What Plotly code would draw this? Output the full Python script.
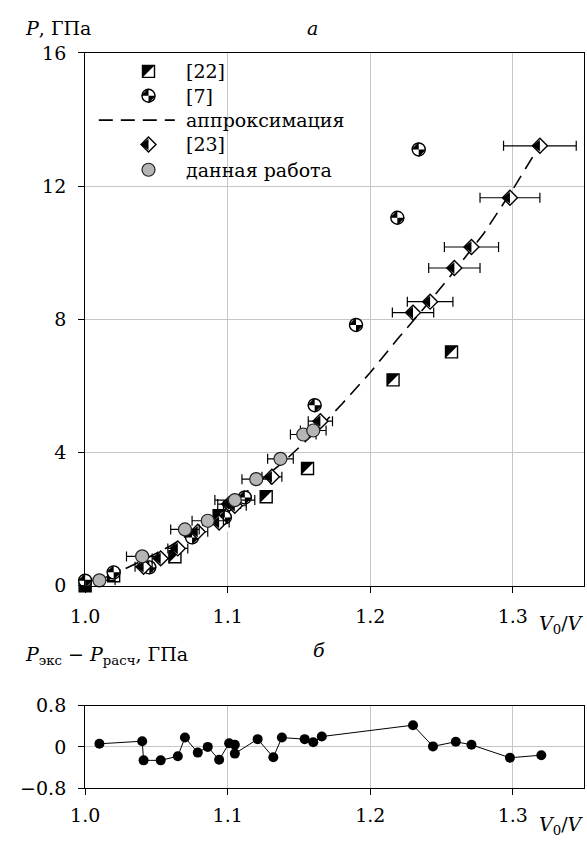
import math
import plotly.graph_objects as go

# ---------------- data ----------------
approx_x = [1.00, 1.02, 1.04, 1.06, 1.08, 1.10, 1.12, 1.14, 1.16, 1.18, 1.20,
            1.22, 1.24, 1.26, 1.28, 1.30, 1.32]
approx_p = [0.0, 0.35, 0.75, 1.2, 1.75, 2.35, 3.05, 3.75, 4.55, 5.45, 6.4,
            7.45, 8.45, 9.5, 10.6, 11.9, 13.3]

ref22_x = [1.000, 1.020, 1.063, 1.094, 1.127, 1.156, 1.216, 1.257]
ref22_p = [0.00, 0.30, 0.87, 2.10, 2.67, 3.52, 6.18, 7.02]

ref7_x = [1.000, 1.020, 1.045, 1.075, 1.098, 1.112, 1.161, 1.190, 1.219, 1.234]
ref7_p = [0.15, 0.40, 0.55, 1.45, 2.05, 2.65, 5.42, 7.83, 11.05, 13.10]

ref23_x = [1.041, 1.053, 1.065, 1.079, 1.094, 1.101, 1.105, 1.131, 1.165,
           1.230, 1.242, 1.259, 1.271, 1.298, 1.319]
ref23_p = [0.57, 0.82, 1.12, 1.62, 1.90, 2.45, 2.40, 3.27, 4.94,
           8.20, 8.53, 9.54, 10.17, 11.65, 13.21]
ref23_err = [0.006, 0.006, 0.007, 0.007, 0.007, 0.008, 0.008, 0.007, 0.0085,
             0.0145, 0.016, 0.018, 0.019, 0.021, 0.0255]

this_x = [1.010, 1.040, 1.070, 1.086, 1.105, 1.120, 1.137, 1.153, 1.160]
this_p = [0.16, 0.88, 1.69, 1.95, 2.57, 3.20, 3.81, 4.54, 4.66]
this_err = [0.011, 0.011, 0.010, 0.011, 0.014, 0.010, 0.009, 0.009, 0.009]

res_x = [1.010, 1.040, 1.041, 1.053, 1.065, 1.070, 1.079, 1.086, 1.094, 1.101,
         1.105, 1.105, 1.121, 1.132, 1.138, 1.154, 1.160, 1.166, 1.230, 1.244,
         1.260, 1.271, 1.298, 1.320]
res_y = [0.06, 0.11, -0.26, -0.26, -0.18, 0.18, -0.11, 0.0, -0.25, 0.07,
         0.04, -0.13, 0.15, -0.20, 0.18, 0.15, 0.09, 0.20, 0.42, 0.01,
         0.10, 0.04, -0.21, -0.16]

x_ticks = [1.0, 1.1, 1.2, 1.3]
p_ticks = [0, 4, 8, 12, 16]
r_ticks = [-0.8, 0, 0.8]
r_ticktext = ["\u22120.8", "0", "0.8"]

legend_labels = ["[22]", "[7]", "аппроксимация", "[23]", "данная работа"]

# ---------------- layout helpers ----------------
W, H = 587, 848
FONT = "DejaVu Serif"


def fx(p):
    return p / W


def fy(p):
    return 1 - p / H


fig = go.Figure()


def sc(**kw):
    kw.setdefault("hoverinfo", "skip")
    kw.setdefault("showlegend", False)
    kw.setdefault("cliponaxis", False)
    fig.add_trace(go.Scatter(**kw))


SQ = 12  # square marker side


def add_square(xs, ys, xa, ya):
    # black square, white diamond whitening the lower-right half, outline on top
    a = SQ / 2
    sc(x=xs, y=ys, mode="markers", xaxis=xa, yaxis=ya,
       marker=dict(symbol="square", size=SQ, color="black",
                   line=dict(width=0)))
    sc(x=xs, y=ys, mode="markers", xaxis=xa, yaxis=ya, cliponaxis=True,
       marker=dict(symbol="square", size=math.sqrt(2) * SQ, color="white",
                   angle=-45, standoff=math.sqrt(2) * a,
                   line=dict(width=0)))
    sc(x=xs, y=ys, mode="markers", xaxis=xa, yaxis=ya,
       marker=dict(symbol="square-open", size=SQ, color="black",
                   line=dict(color="black", width=1.4)))


def add_pie(xs, ys, xa, ya):
    sc(x=xs, y=ys, mode="markers", xaxis=xa, yaxis=ya,
       marker=dict(symbol="circle", size=13, color="white",
                   line=dict(color="black", width=1.4)))
    sc(x=xs, y=ys, mode="markers", xaxis=xa, yaxis=ya,
       marker=dict(symbol="hourglass", size=10.5, color="black", angle=-45,
                   line=dict(width=0)))


def add_diamond(xs, ys, xa, ya, err=None):
    ex = None
    if err is not None:
        ex = dict(type="data", array=err, symmetric=True, color="black",
                  thickness=1.2, width=5)
    sc(x=xs, y=ys, mode="markers", xaxis=xa, yaxis=ya, error_x=ex,
       marker=dict(symbol="diamond", size=11.5, color="white",
                   line=dict(color="black", width=1.4)))
    sc(x=xs, y=ys, mode="markers", xaxis=xa, yaxis=ya,
       marker=dict(symbol="triangle-down", size=10, color="black",
                   angle=90, standoff=2.5, line=dict(width=0)))


def add_grey(xs, ys, xa, ya, err=None):
    ex = None
    if err is not None:
        ex = dict(type="data", array=err, symmetric=True, color="black",
                  thickness=1.2, width=5)
    sc(x=xs, y=ys, mode="markers", xaxis=xa, yaxis=ya, error_x=ex,
       marker=dict(symbol="circle", size=13, color="#b5b5b5",
                   line=dict(color="#222222", width=1.2)))


# ---------------- top panel ----------------
sc(x=approx_x, y=approx_p, mode="lines", xaxis="x", yaxis="y",
   line=dict(color="black", width=1.6, dash="14px,8px"), cliponaxis=True)
add_square(ref22_x, ref22_p, "x", "y")
add_pie(ref7_x, ref7_p, "x", "y")
add_diamond(ref23_x, ref23_p, "x", "y", ref23_err)
add_grey(this_x, this_p, "x", "y", this_err)

# ---------------- custom legend (pixel-coordinate overlay axes) ----------------
leg_mx = 137
leg_rows = [62, 87, 112, 137, 163]
add_square([leg_mx], [leg_rows[0]], "x3", "y3")
add_pie([leg_mx], [leg_rows[1]], "x3", "y3")
sc(x=[86, 164], y=[leg_rows[2], leg_rows[2]], mode="lines", xaxis="x3",
   yaxis="y3", line=dict(color="black", width=1.6, dash="14px,8px"))
add_diamond([leg_mx], [leg_rows[3]], "x3", "y3")
add_grey([leg_mx], [leg_rows[4]], "x3", "y3")

# ---------------- bottom panel ----------------
sc(x=res_x, y=res_y, mode="lines+markers", xaxis="x2", yaxis="y2",
   line=dict(color="black", width=1),
   marker=dict(symbol="circle", size=10, color="black"))

# ---------------- axes ----------------
xdom = [fx(72), fx(584)]
axis_common = dict(showline=True, linecolor="black", linewidth=1.2, mirror=True,
                   ticks="outside", ticklen=6, tickcolor="black", tickwidth=1.2,
                   showgrid=True, gridcolor="#c6c6c6", gridwidth=1,
                   zeroline=False,
                   tickfont=dict(family=FONT, size=19, color="black"))

fig.update_layout(
    width=W, height=H, autosize=False,
    margin=dict(l=0, r=0, t=0, b=0),
    paper_bgcolor="white", plot_bgcolor="white",
    showlegend=False,
    xaxis=dict(domain=xdom, range=[1.0, 1.35], tickvals=x_ticks,
               tickformat=".1f", anchor="y", ticklabelstandoff=7,
               **axis_common),
    yaxis=dict(domain=[fy(590), fy(43)], range=[0, 16], tickvals=p_ticks,
               anchor="x", ticklabelstandoff=8, **axis_common),
    xaxis2=dict(domain=xdom, range=[1.0, 1.35], tickvals=x_ticks,
                tickformat=".1f", anchor="y2", ticklabelstandoff=4,
                **axis_common),
    yaxis2=dict(domain=[fy(798), fy(713)], range=[-0.8, 0.8], tickvals=r_ticks,
                ticktext=r_ticktext, anchor="x2", ticklabelstandoff=8,
                **axis_common),
    xaxis3=dict(overlaying="x", anchor="y3", range=[72, 584], visible=False,
                fixedrange=True),
    yaxis3=dict(overlaying="y", anchor="x3", range=[590, 43], visible=False,
                fixedrange=True),
)

# ---------------- texts ----------------
ann = []
for lab, yy in zip(legend_labels, leg_rows):
    ann.append(dict(x=173, y=yy, xref="x3", yref="y3", text=lab,
                    showarrow=False, xanchor="left", yanchor="middle",
                    font=dict(family=FONT, size=19, color="black")))

tfont = dict(family=FONT, size=19, color="black")
ann += [
    dict(x=fx(8), y=fy(17), xref="paper", yref="paper",
         text="<i>P</i>, ГПа", showarrow=False, xanchor="left",
         yanchor="middle", font=tfont),
    dict(x=fx(305), y=fy(17), xref="paper", yref="paper",
         text="<i>а</i>", showarrow=False, xanchor="center",
         yanchor="middle", font=tfont),
    dict(x=fx(586), y=fy(630), xref="paper", yref="paper",
         text="<i>V</i><sub>0</sub>/<i>V</i>", showarrow=False,
         xanchor="right", yanchor="middle", font=tfont),
    dict(x=fx(8), y=fy(662), xref="paper", yref="paper",
         text="<i>P</i><sub>экс</sub> \u2212 <i>P</i><sub>расч</sub>, ГПа",
         showarrow=False, xanchor="left", yanchor="middle", font=tfont),
    dict(x=fx(312), y=fy(656), xref="paper", yref="paper",
         text="<i>б</i>", showarrow=False, xanchor="center",
         yanchor="middle", font=tfont),
    dict(x=fx(586), y=fy(836), xref="paper", yref="paper",
         text="<i>V</i><sub>0</sub>/<i>V</i>", showarrow=False,
         xanchor="right", yanchor="middle", font=tfont),
]
fig.update_layout(annotations=ann)

fig.write_html("out.html")
